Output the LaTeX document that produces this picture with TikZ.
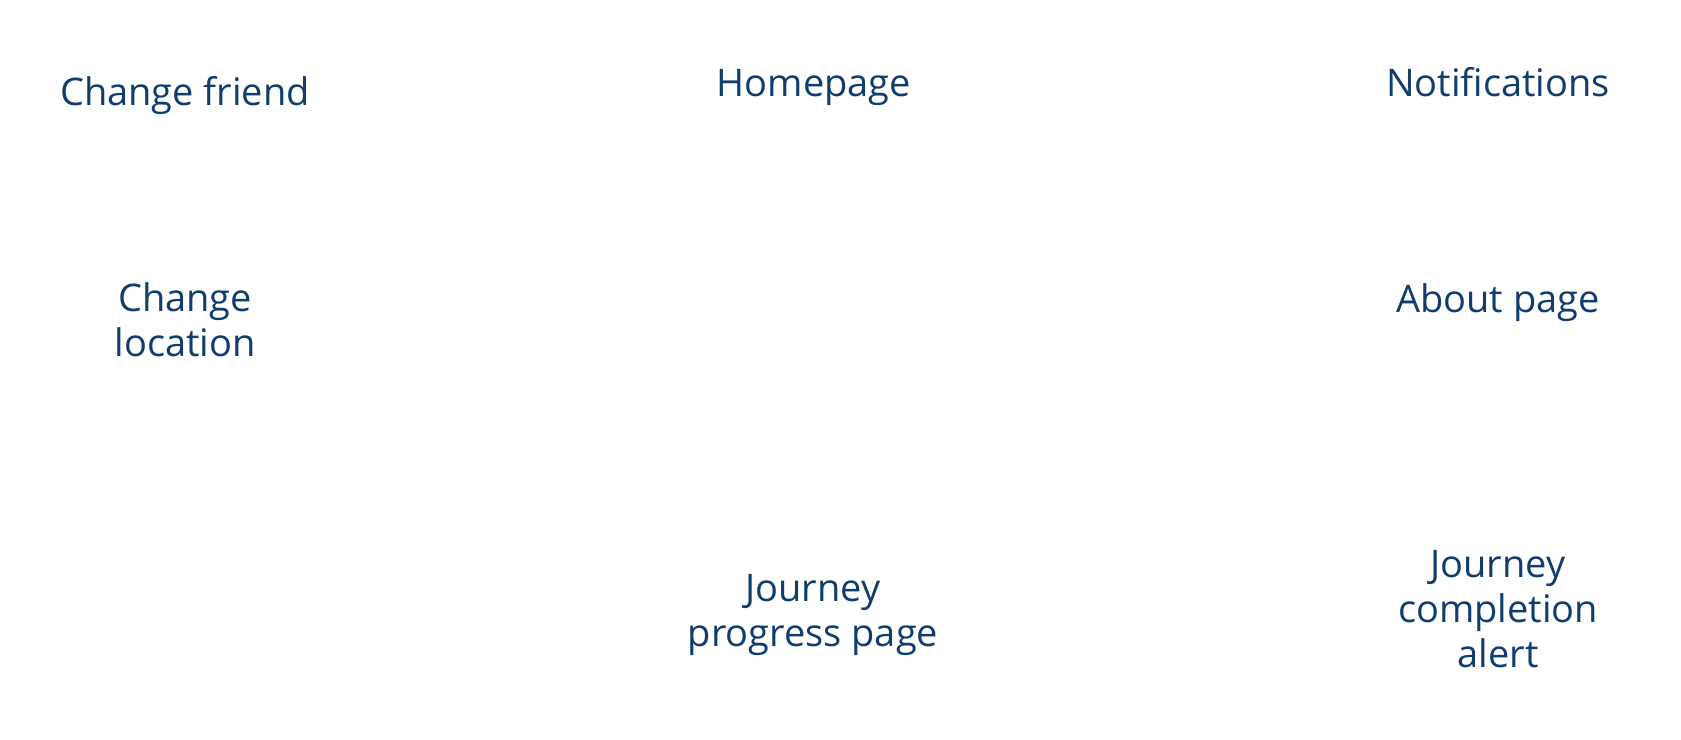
\documentclass[tikz,border=0pt]{standalone}
\usepackage{fontspec}
\setmainfont{Open Sans}
\definecolor{labelblue}{RGB}{16,61,110}
\begin{document}
\begin{tikzpicture}[x=1pt,y=-1pt,
  lbl/.style={text=labelblue,font=\fontsize{38}{45}\selectfont,align=center,inner sep=0pt,anchor=base}]
\fill[white] (0,0) rectangle (1681,739);
\useasboundingbox (0,0) rectangle (1681,739);
\node[lbl] (friend) at (185,105) {Change friend};
\node[lbl] (home) at (814,96) {Homepage};
\node[lbl] (notif) at (1498,96) {Notifications};
\node[lbl] (loc) at (185,356) {Change\\location};
\node[lbl] (about) at (1498,312) {About page};
\node[lbl] (progress) at (813,646) {Journey\\progress page};
\node[lbl] (alert) at (1498,667) {Journey\\completion\\alert};
\end{tikzpicture}
\end{document}
